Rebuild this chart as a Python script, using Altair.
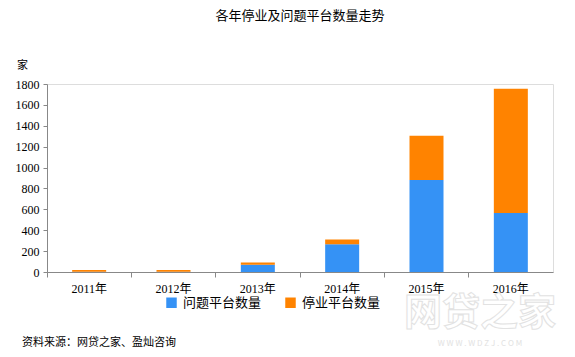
import altair as alt
import pandas as pd

years = ["2011年", "2012年", "2013年", "2014年", "2015年", "2016年"]
problem = [2, 2, 70, 265, 880, 565]
stopped = [18, 16, 20, 45, 425, 1190]
series = ["问题平台数量", "停业平台数量"]
colors = ["#3592F5", "#FF8300"]

rows = []
for y, p, s in zip(years, problem, stopped):
    rows.append({"year": y, "series": series[0], "value": p, "ord": 0})
    rows.append({"year": y, "series": series[1], "value": s, "ord": 1})
df = pd.DataFrame(rows)

SERIF = "Liberation Serif, Noto Sans CJK SC"
SANS = "Noto Sans CJK SC"

bars = alt.Chart(df).mark_bar(size=34).encode(
    x=alt.X("year:N", sort=years, title=None,
            scale=alt.Scale(paddingInner=0, paddingOuter=0),
            axis=alt.Axis(labelAngle=0, labelFont=SERIF, labelFontSize=12, labelColor="#000",
                          domainColor="#888", tickColor="#888", tickSize=5, bandPosition=0,
                          labelPadding=6)),
    y=alt.Y("value:Q", stack="zero",
            scale=alt.Scale(domain=[0, 1800], nice=False),
            axis=alt.Axis(values=list(range(0, 1801, 200)), grid=False, labelFont=SERIF,
                          format="d",
                          labelFontSize=12, labelColor="#000", domainColor="#888",
                          tickColor="#888", tickSize=4, labelPadding=4,
                          title="家", titleAngle=0, titleX=-25, titleY=-14,
                          titleFont=SANS, titleFontSize=11, titleFontWeight="normal",
                          titleAlign="center")),
    color=alt.Color("series:N", sort=series,
                    scale=alt.Scale(domain=series, range=colors),
                    legend=alt.Legend(orient="none", legendX=118, legendY=212, direction="horizontal",
                                      title=None, symbolType="square", symbolSize=110,
                                      symbolStrokeWidth=0, labelFont=SANS, labelFontSize=13,
                                      labelColor="#000", columnPadding=22, labelOffset=5)),
    order=alt.Order("ord:Q"),
)

src = pd.DataFrame({"t": ["资料来源：网贷之家、盈灿咨询"]})
source = alt.Chart(src).mark_text(align="left", baseline="middle", font=SANS, fontSize=11,
                                  color="#000").encode(
    text="t:N", x=alt.value(-25), y=alt.value(259))

wm = pd.DataFrame({"t": ["网贷之家"], "u": ["W W W . W D Z J . C O M"]})
wm1 = alt.Chart(wm).mark_text(align="center", baseline="middle", font=SANS, fontSize=38,
                              fontWeight="bold", color="#ffffff", stroke="#e2e2e2",
                              strokeWidth=1).encode(
    text="t:N", x=alt.value(433), y=alt.value(230))
wm2 = alt.Chart(wm).mark_text(align="center", baseline="middle", font=SANS, fontSize=8,
                              color="#e2e2e2").encode(
    text="u:N", x=alt.value(433), y=alt.value(260))

chart = alt.layer(wm1, wm2, bars, source).properties(
    width=506, height=188,
    title=alt.TitleParams("各年停业及问题平台数量走势", font=SANS, fontSize=13,
                          fontWeight="normal", color="#000", anchor="middle", offset=36),
    autosize=alt.AutoSizeParams(type="none"),
    padding={"left": 47, "top": 84, "right": 22, "bottom": 85},
).configure_view(stroke=None).configure(background="white")

chart.save("out.html", embed_options={"renderer": "svg", "actions": False})
